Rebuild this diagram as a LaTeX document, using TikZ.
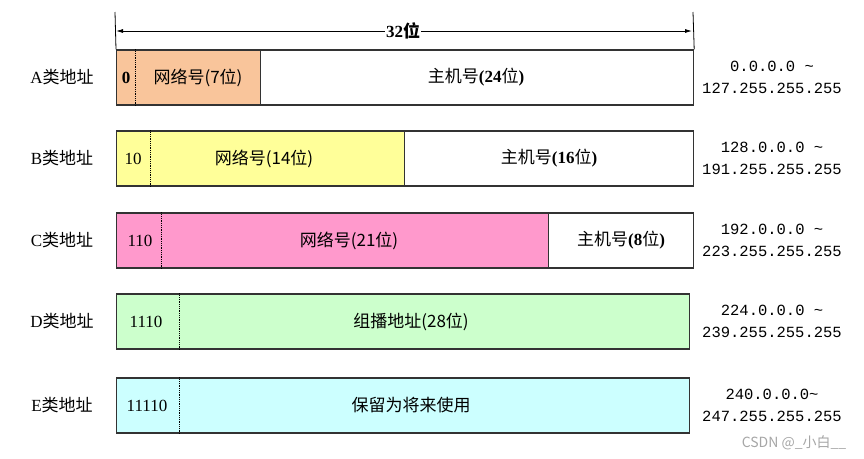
\documentclass[tikz,border=0pt]{standalone}
\usepackage{fontspec}
\setmainfont{Liberation Serif}
\newfontfamily\cjk{Noto Sans CJK SC}
\newfontfamily\rng{Liberation Mono}
\usetikzlibrary{arrows.meta}
\definecolor{orgA}{HTML}{F9C59B}
\definecolor{yelB}{HTML}{FFFF99}
\definecolor{pinkC}{HTML}{FF99CC}
\definecolor{grnD}{HTML}{CCFFCC}
\definecolor{cyanE}{HTML}{CCFFFF}

\begin{document}
\begin{tikzpicture}[x=1pt,y=-1pt,font=\fontsize{17}{20}\selectfont,
  box/.style={rectangle,draw=black!80,line width=1.2pt,minimum height=55pt,inner sep=0pt,anchor=west},
  sep/.style={densely dotted,line width=0.8pt},
  iprange/.style={align=center,font=\rng\fontsize{15.5}{21.5}\selectfont}]
\useasboundingbox (0,0) rectangle (864,458);
%bars
\path (116,77.5) node(anet)[box,fill=orgA,minimum width=144]{}
(260,77.5) node(ahost)[box,minimum width=433]{}
(116,158.5) node(bnet)[box,fill=yelB,minimum width=288]{}
(404,158.5) node(bhost)[box,minimum width=289]{}
(116,240.5) node(cnet)[box,fill=pinkC,minimum width=432]{}
(548,240.5) node(chost)[box,minimum width=145]{}
(116,321.5) node(dnet)[box,fill=grnD,minimum width=573]{}
(116,405.5) node(enet)[box,fill=cyanE,minimum width=573]{};
\draw[sep]([xshift=19pt]anet.north west)--([xshift=19pt]anet.south west);
\draw[sep]([xshift=34pt]bnet.north west)--([xshift=34pt]bnet.south west);
\draw[sep]([xshift=45pt]cnet.north west)--([xshift=45pt]cnet.south west);
\draw[sep]([xshift=63pt]dnet.north west)--([xshift=63pt]dnet.south west);
\draw[sep]([xshift=63pt]enet.north west)--([xshift=63pt]enet.south west);
%texts in the bars
\path (126,77.5) node(apre){\textbf{0}}
(198,77.5) node(anettxt){\cjk 网络号(7位)}
(476,77.5) node(ahosttxt){{\cjk 主机号}\textbf{(24}{\cjk 位}\textbf{)}}
(133,158.5) node(bpre){10}
(264,158.5) node(bnettxt){\cjk 网络号(14位)}
(549,158.5) node(bhosttxt){{\cjk 主机号}\textbf{(16}{\cjk 位}\textbf{)}}
(140,240.5) node(cpre){110}
(349,240.5) node(cnettxt){\cjk 网络号(21位)}
(621,240.5) node(chosttxt){{\cjk 主机号}\textbf{(8}{\cjk 位}\textbf{)}}
(146,321.5) node(dpre){1110}
(411,321.5) node(dnettxt){\cjk 组播地址(28位)}
(147,405.5) node(epre){11110}
(411,405.5) node(enettxt){\cjk 保留为将来使用};
%class names
\path (62,77.5) node(aname){A{\cjk 类地址}}
(62,158.5) node(bname){B{\cjk 类地址}}
(62,240.5) node(cname){C{\cjk 类地址}}
(62,321.5) node(dname){D{\cjk 类地址}}
(62,405.5) node(ename){E{\cjk 类地址}};
%ranges
\path (772,77.5) node(arng)[iprange]{0.0.0.0 \textasciitilde\\127.255.255.255}
(772,158.5) node(brng)[iprange]{128.0.0.0 \textasciitilde\\191.255.255.255}
(772,240.5) node(crng)[iprange]{192.0.0.0 \textasciitilde\\223.255.255.255}
(772,321.5) node(drng)[iprange]{224.0.0.0 \textasciitilde\\239.255.255.255}
(772,405.5) node(erng)[iprange]{240.0.0.0\textasciitilde\\247.255.255.255};
%32 bits
\coordinate (tl) at (115,12);
\coordinate (tr) at (693,12);
\coordinate (l) at (116,31);
\coordinate (r) at (692,31);
\draw[line width=0.8pt](tl)--(anet.north west);
\draw[line width=0.8pt](tr)--(ahost.north east);
\draw[line width=0.8pt,{Latex[length=7pt,width=4pt]}-{Latex[length=7pt,width=4pt]}](l)--(r);
\path (403,31) node(bits)[fill=white,inner sep=1pt]{\textbf{32}{\cjk\bfseries 位}};
\path (794,443) node(mark)[text=gray!70,font=\cjk\fontsize{14}{16}\selectfont]{CSDN @\_小白\_\_};
\end{tikzpicture}
\end{document}
